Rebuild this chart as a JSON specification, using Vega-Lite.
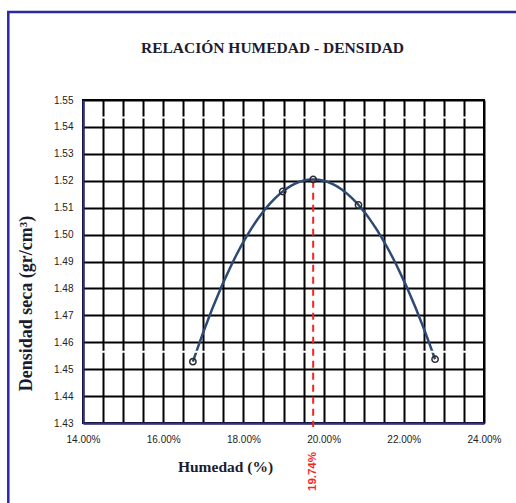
{
  "$schema": "https://vega.github.io/schema/vega-lite/v6.json",
  "width": 401,
  "height": 323,
  "autosize": {"type": "none"},
  "padding": {"left": 83, "top": 100, "right": 32, "bottom": 80},
  "background": "white",
  "title": {
    "text": "RELACIÓN HUMEDAD - DENSIDAD",
    "font": "Liberation Serif",
    "fontSize": 15.5,
    "fontWeight": "bold",
    "color": "#1c1c30",
    "anchor": "middle",
    "frame": "group",
    "baseline": "middle",
    "offset": -36,
    "dx": -11,
    "dy": 17
  },
  "config": {
    "view": {"stroke": "#000000", "strokeWidth": 2},
    "axis": {
      "labelFont": "Liberation Sans",
      "labelFontSize": 10,
      "labelColor": "#222222",
      "titleFont": "Liberation Serif",
      "titleFontWeight": "bold",
      "titleColor": "#1c1c30",
      "grid": true,
      "gridColor": "#000000",
      "gridWidth": 2,
      "gridOpacity": 1,
      "ticks": false,
      "tickSize": 0,
      "domainColor": "#2e2e96",
      "domainWidth": 2,
      "labelFlush": false,
      "labelOverlap": false
    }
  },
  "datasets": {
    "ensayo": [
      {"humedad": 16.74, "densidad": 1.4528},
      {"humedad": 18.98, "densidad": 1.516},
      {"humedad": 19.74, "densidad": 1.5205},
      {"humedad": 20.87, "densidad": 1.511},
      {"humedad": 22.78, "densidad": 1.4537}
    ],
    "optimo": [
      {"humedad": 19.74, "densidad": 1.52, "etiqueta": "19.74%"}
    ],
    "blancas": [
      {"densidad": 1.5435},
      {"densidad": 1.4565}
    ]
  },
  "layer": [
    {
      "data": {"name": "ensayo"},
      "transform": [
        {"regression": "densidad", "on": "humedad", "method": "poly", "order": 4, "extent": [16.74, 22.78]}
      ],
      "mark": {"type": "line", "color": "#2d4a74", "strokeWidth": 2.5},
      "encoding": {
        "x": {
          "field": "humedad",
          "type": "quantitative",
          "scale": {"domain": [14, 24], "nice": false, "zero": false},
          "axis": {
            "title": "Humedad (%)",
            "titleFontSize": 15.5,
            "titleX": 142,
            "titleY": 43,
            "titleBaseline": "middle",
            "values": [14, 14.5, 15, 15.5, 16, 16.5, 17, 17.5, 18, 18.5, 19, 19.5, 20, 20.5, 21, 21.5, 22, 22.5, 23, 23.5, 24],
            "labelExpr": "datum.value % 2 === 0 ? format(datum.value / 100, '.2%') : ''",
            "labelPadding": 11
          }
        },
        "y": {
          "field": "densidad",
          "type": "quantitative",
          "scale": {"domain": [1.43, 1.55], "nice": false, "zero": false},
          "axis": {
            "title": "Densidad seca (gr/cm³)",
            "titleFontSize": 18,
            "titleX": -57,
            "titleY": 203,
            "titleBaseline": "middle",
            "titleAlign": "center",
            "values": [1.43, 1.44, 1.45, 1.46, 1.47, 1.48, 1.49, 1.5, 1.51, 1.52, 1.53, 1.54, 1.55],
            "format": ".2f",
            "labelPadding": 10
          }
        }
      }
    },
    {
      "data": {"values": [{}]},
      "mark": {"type": "rect", "filled": false, "fill": null, "stroke": "#2a2aa0", "strokeWidth": 2.5, "clip": false},
      "encoding": {
        "x": {
          "datum": 12.137,
          "type": "quantitative",
          "axis": {
            "title": "Humedad (%)",
            "titleFontSize": 15.5,
            "titleX": 142,
            "titleY": 43,
            "titleBaseline": "middle",
            "values": [14, 14.5, 15, 15.5, 16, 16.5, 17, 17.5, 18, 18.5, 19, 19.5, 20, 20.5, 21, 21.5, 22, 22.5, 23, 23.5, 24],
            "labelExpr": "datum.value % 2 === 0 ? format(datum.value / 100, '.2%') : ''",
            "labelPadding": 11
          }
        },
        "x2": {"datum": 27},
        "y": {
          "datum": 1.5827,
          "type": "quantitative",
          "axis": {
            "title": "Densidad seca (gr/cm³)",
            "titleFontSize": 18,
            "titleX": -57,
            "titleY": 203,
            "titleBaseline": "middle",
            "titleAlign": "center",
            "values": [1.43, 1.44, 1.45, 1.46, 1.47, 1.48, 1.49, 1.5, 1.51, 1.52, 1.53, 1.54, 1.55],
            "format": ".2f",
            "labelPadding": 10
          }
        },
        "y2": {"datum": 1.37}
      }
    },
    {
      "data": {"name": "blancas"},
      "mark": {"type": "rule", "color": "#ffffff", "strokeWidth": 2, "strokeCap": "butt", "strokeDash": [0, 2.5, 396, 20]},
      "encoding": {
        "y": {
          "field": "densidad",
          "type": "quantitative",
          "axis": {
            "title": "Densidad seca (gr/cm³)",
            "titleFontSize": 18,
            "titleX": -57,
            "titleY": 203,
            "titleBaseline": "middle",
            "titleAlign": "center",
            "values": [1.43, 1.44, 1.45, 1.46, 1.47, 1.48, 1.49, 1.5, 1.51, 1.52, 1.53, 1.54, 1.55],
            "format": ".2f",
            "labelPadding": 10
          }
        }
      }
    },
    {
      "data": {"name": "optimo"},
      "mark": {"type": "rule", "color": "#ff1f1f", "strokeWidth": 2, "strokeDash": [7, 5]},
      "encoding": {
        "x": {
          "field": "humedad",
          "type": "quantitative",
          "axis": {
            "title": "Humedad (%)",
            "titleFontSize": 15.5,
            "titleX": 142,
            "titleY": 43,
            "titleBaseline": "middle",
            "values": [14, 14.5, 15, 15.5, 16, 16.5, 17, 17.5, 18, 18.5, 19, 19.5, 20, 20.5, 21, 21.5, 22, 22.5, 23, 23.5, 24],
            "labelExpr": "datum.value % 2 === 0 ? format(datum.value / 100, '.2%') : ''",
            "labelPadding": 11
          }
        },
        "y": {
          "field": "densidad",
          "type": "quantitative",
          "axis": {
            "title": "Densidad seca (gr/cm³)",
            "titleFontSize": 18,
            "titleX": -57,
            "titleY": 203,
            "titleBaseline": "middle",
            "titleAlign": "center",
            "values": [1.43, 1.44, 1.45, 1.46, 1.47, 1.48, 1.49, 1.5, 1.51, 1.52, 1.53, 1.54, 1.55],
            "format": ".2f",
            "labelPadding": 10
          }
        },
        "y2": {"datum": 1.4285}
      }
    },
    {
      "data": {"name": "ensayo"},
      "mark": {"type": "point", "shape": "circle", "filled": false, "stroke": "#2b2b2b", "strokeWidth": 1.5, "size": 40, "opacity": 1},
      "encoding": {
        "x": {
          "field": "humedad",
          "type": "quantitative",
          "axis": {
            "title": "Humedad (%)",
            "titleFontSize": 15.5,
            "titleX": 142,
            "titleY": 43,
            "titleBaseline": "middle",
            "values": [14, 14.5, 15, 15.5, 16, 16.5, 17, 17.5, 18, 18.5, 19, 19.5, 20, 20.5, 21, 21.5, 22, 22.5, 23, 23.5, 24],
            "labelExpr": "datum.value % 2 === 0 ? format(datum.value / 100, '.2%') : ''",
            "labelPadding": 11
          }
        },
        "y": {
          "field": "densidad",
          "type": "quantitative",
          "axis": {
            "title": "Densidad seca (gr/cm³)",
            "titleFontSize": 18,
            "titleX": -57,
            "titleY": 203,
            "titleBaseline": "middle",
            "titleAlign": "center",
            "values": [1.43, 1.44, 1.45, 1.46, 1.47, 1.48, 1.49, 1.5, 1.51, 1.52, 1.53, 1.54, 1.55],
            "format": ".2f",
            "labelPadding": 10
          }
        }
      }
    },
    {
      "data": {"name": "optimo"},
      "mark": {"type": "text", "angle": 270, "align": "right", "baseline": "middle", "dx": -29, "font": "Liberation Sans", "fontSize": 11.5, "fontWeight": "bold", "color": "#ff1f1f"},
      "encoding": {
        "x": {
          "field": "humedad",
          "type": "quantitative",
          "axis": {
            "title": "Humedad (%)",
            "titleFontSize": 15.5,
            "titleX": 142,
            "titleY": 43,
            "titleBaseline": "middle",
            "values": [14, 14.5, 15, 15.5, 16, 16.5, 17, 17.5, 18, 18.5, 19, 19.5, 20, 20.5, 21, 21.5, 22, 22.5, 23, 23.5, 24],
            "labelExpr": "datum.value % 2 === 0 ? format(datum.value / 100, '.2%') : ''",
            "labelPadding": 11
          }
        },
        "y": {
          "datum": 1.43,
          "type": "quantitative",
          "axis": {
            "title": "Densidad seca (gr/cm³)",
            "titleFontSize": 18,
            "titleX": -57,
            "titleY": 203,
            "titleBaseline": "middle",
            "titleAlign": "center",
            "values": [1.43, 1.44, 1.45, 1.46, 1.47, 1.48, 1.49, 1.5, 1.51, 1.52, 1.53, 1.54, 1.55],
            "format": ".2f",
            "labelPadding": 10
          }
        },
        "text": {"field": "etiqueta"}
      }
    }
  ]
}
